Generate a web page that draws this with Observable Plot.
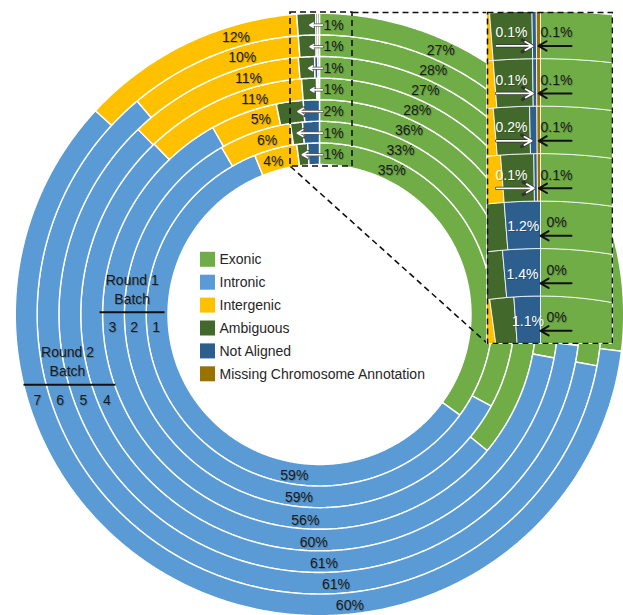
<!DOCTYPE html>
<html><head><meta charset="utf-8">
<script src="https://cdn.jsdelivr.net/npm/d3@7"></script>
<script src="https://cdn.jsdelivr.net/npm/@observablehq/plot@0.6"></script>
<style>
body{margin:0;background:#fff;}
#wrap{position:relative;width:623px;height:615px;overflow:hidden;background:#fff;}
#main{position:absolute;left:0;top:0;}
#inset{position:absolute;left:486px;top:11px;}
svg{overflow:hidden;}
</style></head><body>
<div id="wrap"><div id="main"></div><div id="inset"></div></div>
<script>
// ---- data (ring 1 = innermost batch, ring 7 = outermost) ----
const batches = [1, 2, 3, 4, 5, 6, 7];
const categories = ["Exonic", "Intronic", "Intergenic", "Ambiguous", "Not Aligned", "Missing Chromosome Annotation"];
const colors = ["#70AD47", "#5B9BD5", "#FFC000", "#43682B", "#2C5E8E", "#997300"];
const exonic     = [35, 33, 36, 28, 27, 28, 27];
const intronic   = [59, 59, 56, 60, 61, 61, 60];
const intergenic = [4, 6, 5, 11, 11, 10, 12];
const ambiguous  = [1, 1, 2, 1, 1, 1, 1];
const notAligned = [1.1, 1.4, 1.2, 0.1, 0.2, 0.1, 0.1];
const missing    = [0, 0, 0, 0.1, 0.1, 0.1, 0.1];
const round1 = ["Round 1", "Batch"];
const round2 = ["Round 2", "Batch"];
const round1Batches = [1, 2, 3];
const round2Batches = [4, 5, 6, 7];

const series = [exonic, intronic, intergenic, ambiguous, notAligned, missing];

// ---- geometry (style) ----
const W = 623, H = 615, CX = 319, CY = 314, KX = 1.01, R0 = 150, RW = 21.6;
const rIn = i => R0 + RW * i;
const rMid = i => R0 + RW * (i + 0.5);
const deg = Math.PI / 180;
const FONT = "'Liberation Sans', Arial, sans-serif";
const px = p => (p - CX) / KX; // horizontal pixel -> data (for annotations)

// segments
const segs = [];
batches.forEach((b, i) => {
  const tot = d3.sum(series, s => s[i]);
  let cum = 0;
  series.forEach((s, j) => {
    const a0 = cum / tot * 2 * Math.PI; cum += s[i]; const a1 = cum / tot * 2 * Math.PI;
    segs.push({ring: i, cat: categories[j], a0, a1, value: s[i]});
  });
});
const seg = (i, j) => segs[i * series.length + j];

const polys = [];
segs.forEach((sg, k) => {
  if (sg.a1 - sg.a0 <= 0) return;
  const n = Math.max(2, Math.ceil((sg.a1 - sg.a0) / (0.4 * deg)));
  const r1 = rIn(sg.ring), r2 = r1 + RW;
  const pts = [];
  for (let t = 0; t <= n; t++) { const a = sg.a0 + (sg.a1 - sg.a0) * t / n; pts.push([r2 * Math.sin(a), r2 * Math.cos(a)]); }
  for (let t = n; t >= 0; t--) { const a = sg.a0 + (sg.a1 - sg.a0) * t / n; pts.push([r1 * Math.sin(a), r1 * Math.cos(a)]); }
  pts.push(pts[0]);
  pts.forEach(([x, y]) => polys.push({id: k, cat: sg.cat, x, y}));
});

const polar = (r, aDeg) => [r * Math.sin(aDeg * deg), r * Math.cos(aDeg * deg)];

// labels
const exLabels = batches.map((b, i) => { const [x, y] = polar(rMid(i), 26.4 - 0.33 * i); return {x, y, t: exonic[i] + "%"}; });
const inLabels = batches.map((b, i) => { const [x, y] = polar(rMid(i) + 2, 188.8 - 2.45 * i); return {x, y, t: intronic[i] + "%"}; });
const igLabels = batches.map((b, i) => { const [x, y] = polar(rMid(i) - 1, -16.6); return {x, y, t: intergenic[i] + "%"}; });
const amLabels = batches.map((b, i) => ({x: px(323), y: rMid(i) - 1, t: ambiguous[i] + "%"}));
const amArrows = batches.map((b, i) => {
  const s = seg(i, 3); const r = rMid(i);
  const xr = r * Math.sin(s.a1);
  return {x1: px(322), y1: r - 1, x2: xr - 6, y2: r - 1};
});

function shadowText(data, o) {
  return [
    Plot.text(data, {...o, fill: "#000", fillOpacity: 0.22, dx: (o.dx || 0) + 1, dy: (o.dy || 0) + 1}),
    Plot.text(data, o)
  ];
}

const legendRows = categories.map((c, i) => ({c, y: 54.7 - i * 22.9}));

// round labels
const r1Nums = round1Batches.map(b => ({t: String(b), y: -13, x: -Math.sqrt(rMid(b - 1) ** 2 - 13 ** 2) - 1.5}));
const r2Nums = round2Batches.map(b => ({t: String(b), y: -86, x: -Math.sqrt(rMid(b - 1) ** 2 - 86 ** 2) - 2}));
const roundText = [
  {t: round1[0], x: px(131.7), y: 34}, {t: round1[1], x: px(131.7), y: 15},
  {t: round2[0], x: px(67), y: -38}, {t: round2[1], x: px(67), y: -57}
];
const roundLines = [
  {x1: px(99), x2: px(164), y1: 2.3, y2: 2.3},
  {x1: px(23), x2: px(115), y1: -70.3, y2: -70.3}
];

// zoom boxes
const zoomBox = {x1: px(290), x2: px(352), y1: 148, y2: 302};
const insetBox = {x1: px(487), x2: px(612), y1: -29, y2: 302};
const dashLinks = [
  {x1: zoomBox.x2, y1: zoomBox.y2, x2: insetBox.x1, y2: insetBox.y2},
  {x1: zoomBox.x1, y1: zoomBox.y1, x2: insetBox.x1, y2: insetBox.y1}
];

const main = Plot.plot({
  width: W, height: H, margin: 0,
  style: {fontFamily: FONT, fontSize: "14px", background: "white", color: "#1a1a1a"},
  x: {domain: [-CX / KX, (W - CX) / KX], axis: null},
  y: {domain: [CY - H, CY], axis: null},
  color: {domain: categories, range: colors},
  marks: [
    Plot.line(polys, {x: "x", y: "y", z: "id", fill: "cat", stroke: "white", strokeWidth: 1.4, curve: "linear"}),
    ...shadowText(exLabels, {x: "x", y: "y", text: "t", fontSize: 14, fill: "#1a1a1a"}),
    ...shadowText(inLabels, {x: "x", y: "y", text: "t", fontSize: 14, fill: "#1a1a1a"}),
    ...shadowText(igLabels, {x: "x", y: "y", text: "t", fontSize: 14, fill: "#1a1a1a"}),
    Plot.arrow(amArrows, {x1: "x1", y1: "y1", x2: "x2", y2: "y2", stroke: "#555", strokeWidth: 3, headLength: 6}),
    Plot.arrow(amArrows, {x1: "x1", y1: "y1", x2: "x2", y2: "y2", stroke: "white", strokeWidth: 1.6, headLength: 6}),
    ...shadowText(amLabels, {x: "x", y: "y", text: "t", fontSize: 14, textAnchor: "start", fill: "#1a1a1a"}),
    // legend
    Plot.rect(legendRows, {x1: px(200), x2: px(215), y1: d => d.y - 7.5, y2: d => d.y + 7.5, fill: "c"}),
    Plot.text(legendRows, {x: px(219), y: "y", text: "c", textAnchor: "start", fontSize: 14, fill: "#262626"}),
    // round labels
    ...shadowText(roundText, {x: "x", y: "y", text: "t", fontSize: 14, fill: "#1a1a1a"}),
    Plot.link(roundLines, {x1: "x1", y1: "y1", x2: "x2", y2: "y2", stroke: "#111", strokeWidth: 2}),
    ...shadowText(r1Nums, {x: "x", y: "y", text: "t", fontSize: 14, fill: "#1a1a1a"}),
    ...shadowText(r2Nums, {x: "x", y: "y", text: "t", fontSize: 14, fill: "#1a1a1a"}),
    // zoom indicators
    Plot.rect([zoomBox], {x1: "x1", x2: "x2", y1: "y1", y2: "y2", fill: "none", stroke: "#111", strokeWidth: 1.6, strokeDasharray: "6,4"}),
    Plot.link(dashLinks, {x1: "x1", y1: "y1", x2: "x2", y2: "y2", stroke: "#111", strokeWidth: 1.6, strokeDasharray: "6,4"})
  ]
});
document.getElementById("main").appendChild(main);

// ---- inset (magnified view near the top) ----
const SX = 2.25, ZERO = 53, IW = 125, IH = 331;
const ix = p => (p - ZERO) / SX; // inset local pixel -> data
const insetNA = batches.map((b, i) => {
  const s = seg(i, 4), r = rMid(i);
  const mid = r * Math.sin((s.a0 + s.a1) / 2);
  const big = notAligned[i] >= 1;
  return {t: notAligned[i] + "%", x: big ? mid : ix(24), y: r, big, head: mid};
});
const insetMiss = batches.map((b, i) => {
  const s = seg(i, 5), r = rMid(i);
  const mid = r * Math.sin((s.a0 + s.a1) / 2);
  return {t: missing[i] + "%", x: ix(69), y: r, head: mid - 0.6};
});
const naArrows = insetNA.filter(d => !d.big).map(d => ({x1: ix(9), x2: d.head - 0.8, y1: d.y, y2: d.y}));
const missArrows = insetMiss.map(d => ({x1: ix(84), x2: d.head + 0.6, y1: d.y, y2: d.y}));

const inset = Plot.plot({
  width: IW + 2, height: IH + 2, margin: 1,
  style: {fontFamily: FONT, fontSize: "14px", background: "white", overflow: "hidden"},
  x: {domain: [ix(0), ix(IW)], axis: null},
  y: {domain: [R0, R0 + 7 * RW - 0.6], axis: null},
  color: {domain: categories, range: colors},
  marks: [
    Plot.line(polys, {x: "x", y: "y", z: "id", fill: "cat", stroke: "white", strokeWidth: 1, strokeOpacity: 0.8, curve: "linear", clip: true}),
    ...shadowText(insetNA.filter(d => !d.big), {x: "x", y: "y", text: "t", fontSize: 14, fill: "white", dy: -2}),
    ...shadowText(insetNA.filter(d => d.big), {x: "x", y: "y", text: "t", fontSize: 14, fill: "white", dy: 2}),
    Plot.arrow(naArrows, {x1: "x1", y1: "y1", x2: "x2", y2: "y2", stroke: "#333", strokeWidth: 3.2, headLength: 7, dy: 11}),
    Plot.arrow(naArrows, {x1: "x1", y1: "y1", x2: "x2", y2: "y2", stroke: "white", strokeWidth: 1.8, headLength: 7, dy: 11}),
    ...shadowText(insetMiss, {x: "x", y: "y", text: "t", fontSize: 14, fill: "#1a1a1a", dy: -2}),
    Plot.arrow(missArrows, {x1: "x1", y1: "y1", x2: "x2", y2: "y2", stroke: "#111", strokeWidth: 2, headLength: 7, dy: 11}),
    Plot.frame({stroke: "#111", strokeWidth: 1.6, strokeDasharray: "6,4"})
  ]
});
document.getElementById("inset").appendChild(inset);
</script>
</body></html>
